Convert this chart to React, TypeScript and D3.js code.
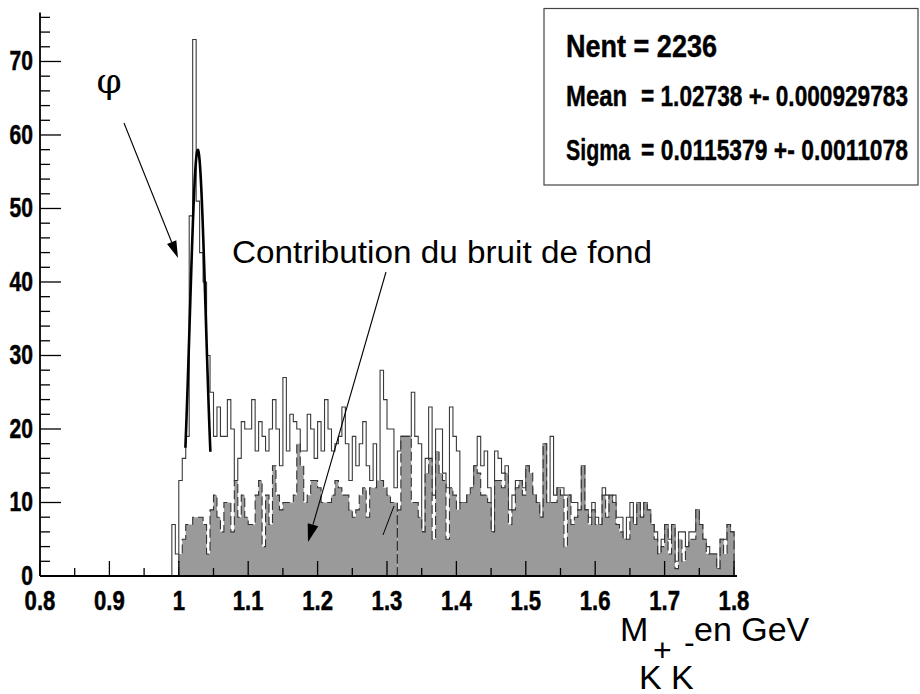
import React from 'react';
import * as d3 from 'd3';

// ---------- DATA ----------
const BIN_WIDTH = 0.005;

// total K+K- invariant-mass histogram (white, outlined), first bin starts at 0.99 GeV
const totalStart = 0.99;
const totalCounts = [
  7, 3, 13, 16, 19, 49, 73, 51, 44, 40,
  30, 25, 19, 23, 19, 19, 24, 20, 13, 16,
  21, 20, 20, 24, 17, 21, 19, 17, 20, 24,
  20, 15, 27, 17, 22, 21, 20, 17, 17, 22,
  20, 16, 21, 17, 24, 20, 17, 18, 19, 23,
  18, 13, 19, 15, 18, 21, 15, 13, 18, 12,
  28, 24, 20, 20, 12, 17, 19, 19, 19, 25,
  19, 18, 6, 16, 23, 11, 20, 20, 14, 12,
  23, 19, 17, 10, 10, 11, 11, 15, 19, 15,
  17, 12, 6, 17, 16, 14, 15, 9, 11, 13,
  13, 12, 15, 12, 11, 10, 8, 18, 10, 19,
  11, 12, 12, 11, 11, 10, 10, 8, 15, 9,
  8, 10, 8, 7, 12, 11, 8, 11, 8, 8,
  5, 8, 10, 7, 10, 8, 10, 9, 7, 6,
  3, 5, 7, 5, 7, 2, 6, 6, 4, 6,
  6, 9, 7, 5, 4, 3, 3, 1, 5, 5,
  7, 6,
];

// background contribution (grey, filled, dashed outline) – lower part
const bgLeftStart = 1.0;
const bgLeftCounts = [
  3, 5, 7, 7, 8, 8, 8, 7, 3, 9,
  11, 8, 6, 10, 10, 6, 13, 8, 11, 8,
  7, 7, 11, 13, 4, 11, 7, 15, 11, 9,
  10, 10, 10, 11, 18, 15, 10, 11, 13, 13,
  12, 10, 10, 10, 11, 13, 12, 11, 11, 9,
  8, 9, 11, 12, 8, 12, 12, 13, 13, 12,
  11, 10, 10,
];

// background contribution – upper part
const bgRightStart = 1.315;
const bgRightCounts = [
  9, 19, 19, 19, 10, 10, 8, 6, 14, 16,
  5, 17, 14, 13, 5, 12, 11, 9, 10, 10,
  11, 12, 15, 14, 11, 11, 10, 6, 13, 13,
  12, 14, 7, 9, 12, 13, 11, 15, 14, 11,
  10, 8, 18, 10, 10, 10, 12, 11, 4, 11,
  7, 8, 9, 15, 9, 7, 9, 7, 7, 11,
  8, 11, 10, 7, 6, 5, 5, 8, 7, 10,
  8, 10, 9, 7, 5, 3, 4, 7, 3, 7,
  1, 5, 2, 4, 5, 5, 9, 7, 5, 3,
  3, 3, 1, 5, 3, 7, 6,
];

// Gaussian fit parameters (phi peak)
const fitMean = 1.02738;
const fitSigma = 0.0115379;
const fitAmplitude = 58;
const fitRange = [1.0095, 1.0455];

// axes
const xDomain = [0.8, 1.8];
const yDomain = [0, 76.65];
const xMajorTicks = [0.8, 0.9, 1.0, 1.1, 1.2, 1.3, 1.4, 1.5, 1.6, 1.7, 1.8];
const xTickLabels = ['0.8', '0.9', '1', '1.1', '1.2', '1.3', '1.4', '1.5', '1.6', '1.7', '1.8'];
const xMinorTicks = [0.85, 0.95, 1.05, 1.15, 1.25, 1.35, 1.45, 1.55, 1.65, 1.75];
const yMajorTicks = [0, 10, 20, 30, 40, 50, 60, 70];
const yTickLabels = ['0', '10', '20', '30', '40', '50', '60', '70'];
const yMinorTicks = d3.range(2, 77, 2).filter((v) => v % 10 !== 0);

// stats box texts
const statsTitle = 'Nent = 2236';
const statsNames = ['Mean', 'Sigma'];
const statsValues = ['= 1.02738 +- 0.000929783', '= 0.0115379 +- 0.0011078'];

const annotationPhi = 'φ';
const annotationBg = 'Contribution du bruit de fond';

// ---------- HELPERS ----------
function stepPoints(start: number, counts: number[]): [number, number][] {
  const pts: [number, number][] = [[start, 0]];
  counts.forEach((c, i) => {
    const lo = start + i * BIN_WIDTH;
    pts.push([lo, c], [lo + BIN_WIDTH, c]);
  });
  pts.push([start + counts.length * BIN_WIDTH, 0]);
  return pts;
}

const SANS = "'Liberation Sans', Arial, Helvetica, sans-serif";

function CText(props: {
  x: number; y: number; sx?: number; size: number; anchor?: string; bold?: boolean; children: any; family?: string; heavy?: boolean;
}) {
  const { x, y, sx = 1, size, anchor = 'start', bold = false, children, family = SANS, heavy = false } = props;
  return (
    <text
      transform={`translate(${x},${y}) scale(${sx},1)`}
      fontSize={size}
      fontFamily={family}
      fontWeight={bold ? 'bold' : 'normal'}
      textAnchor={anchor}
      fill="#000"
      stroke={heavy ? '#000' : 'none'}
      strokeWidth={heavy ? 0.5 : 0}
    >
      {children}
    </text>
  );
}

function Arrow(props: { x1: number; y1: number; x2: number; y2: number; len?: number; half?: number }) {
  const { x1, y1, x2, y2, len = 16, half = 5 } = props;
  const dx = x2 - x1, dy = y2 - y1;
  const L = Math.hypot(dx, dy);
  const ux = dx / L, uy = dy / L;
  const bx = x2 - ux * len, by = y2 - uy * len;
  const px = -uy, py = ux;
  const head = `M${x2},${y2}L${bx + px * half},${by + py * half}L${bx - px * half},${by - py * half}Z`;
  return (
    <g>
      <line x1={x1} y1={y1} x2={bx} y2={by} stroke="#000" strokeWidth={1.1} />
      <path d={head} fill="#000" />
    </g>
  );
}

export default function App() {
  const x = d3.scaleLinear().domain(xDomain).range([40, 734]);
  const y = d3.scaleLinear().domain(yDomain).range([576, 12.6]);

  const line = d3.line<[number, number]>().x((d) => x(d[0])).y((d) => y(d[1]));

  const totalPath = line(stepPoints(totalStart, totalCounts)) || '';
  const bgLeftPath = line(stepPoints(bgLeftStart, bgLeftCounts)) || '';
  const bgRightPath = line(stepPoints(bgRightStart, bgRightCounts)) || '';

  const fitX = d3.range(fitRange[0], fitRange[1] + 1e-9, (fitRange[1] - fitRange[0]) / 60);
  const fitPts: [number, number][] = fitX.map((v) => [
    v,
    fitAmplitude * Math.exp(-0.5 * ((v - fitMean) / fitSigma) ** 2),
  ]);
  const fitPath = d3.line<[number, number]>().x((d) => x(d[0])).y((d) => y(d[1])).curve(d3.curveBasis)(fitPts) || '';

  const y0 = y(0);
  const statFont = 30;

  return (
    <svg
      width={920}
      height={694}
      style={{ position: 'absolute', left: 0, top: 0, background: '#fff' }}
    >
      <rect x={0} y={0} width={920} height={694} fill="#fff" />

      {/* total histogram */}
      <path d={totalPath} fill="none" stroke="#3a3a3a" strokeWidth={1.1} />

      {/* background histogram */}
      <path d={bgLeftPath} fill="#9a9a9a" stroke="none" />
      <path d={bgRightPath} fill="#9a9a9a" stroke="none" />
      <path d={bgLeftPath} fill="none" stroke="#333" strokeWidth={1.1} strokeDasharray="9,4" />
      <path d={bgRightPath} fill="none" stroke="#333" strokeWidth={1.1} strokeDasharray="9,4" />

      {/* gaussian fit */}
      <path d={fitPath} fill="none" stroke="#000" strokeWidth={2.6} />

      {/* axes */}
      <line x1={40} y1={y0} x2={737} y2={y0} stroke="#000" strokeWidth={1.8} />
      <line x1={40} y1={y0} x2={40} y2={y(yDomain[1])} stroke="#000" strokeWidth={1.8} />
      {xMajorTicks.map((v) => (
        <line key={'xM' + v} x1={x(v)} x2={x(v)} y1={y0} y2={y0 - 15} stroke="#000" strokeWidth={1.3} />
      ))}
      {xMinorTicks.map((v) => (
        <line key={'xm' + v} x1={x(v)} x2={x(v)} y1={y0} y2={y0 - 8} stroke="#000" strokeWidth={1.3} />
      ))}
      {yMajorTicks.map((v) => (
        <line key={'yM' + v} x1={40} x2={61} y1={y(v)} y2={y(v)} stroke="#000" strokeWidth={1.3} />
      ))}
      {yMinorTicks.map((v) => (
        <line key={'ym' + v} x1={40} x2={50} y1={y(v)} y2={y(v)} stroke="#000" strokeWidth={1.3} />
      ))}
      {yMajorTicks.map((v, i) => (
        <CText key={'yl' + v} x={33} y={y(v) + 9} size={27} sx={0.78} anchor="end" bold heavy>
          {yTickLabels[i]}
        </CText>
      ))}
      {xMajorTicks.map((v, i) => (
        <CText key={'xl' + v} x={x(v)} y={610} size={27} sx={0.82} anchor="middle" bold heavy>
          {xTickLabels[i]}
        </CText>
      ))}

      {/* x-axis title */}
      <CText x={620} y={641} size={34}>M</CText>
      <CText x={694} y={641} size={34}>en GeV</CText>
      <CText x={653} y={661} size={32}>+</CText>
      <CText x={684} y={653} size={32}>-</CText>
      <CText x={639} y={689} size={34}>K</CText>
      <CText x={671} y={689} size={34}>K</CText>

      {/* annotations */}
      <CText x={109} y={93} size={36} anchor="middle" family="'DejaVu Serif', 'Liberation Serif', serif">
        {annotationPhi}
      </CText>
      <Arrow x1={124} y1={123} x2={178} y2={258} len={17} half={5} />
      <text x={232} y={263} fontSize={31} fontFamily={SANS} textLength={420} lengthAdjust="spacingAndGlyphs">
        {annotationBg}
      </text>
      <Arrow x1={386} y1={272} x2={308} y2={542} len={18} half={5.5} />
      <line x1={383} y1={535} x2={394} y2={506} stroke="#000" strokeWidth={1} />

      {/* stats box */}
      <rect x={544} y={8.5} width={374} height={176.5} fill="#fff" stroke="#444" strokeWidth={1.2} />
      <text x={566} y={57} fontSize={31} fontWeight="bold" fontFamily={SANS} stroke="#000" strokeWidth={0.4}
        textLength={151} lengthAdjust="spacingAndGlyphs">
        {statsTitle}
      </text>
      {statsNames.map((n, i) => (
        <g key={n}>
          <text x={566} y={106 + i * 54} fontSize={statFont} fontWeight="bold" fontFamily={SANS} stroke="#000" strokeWidth={0.4}
            textLength={i === 0 ? 61 : 64} lengthAdjust="spacingAndGlyphs">
            {n}
          </text>
          <text x={641} y={106 + i * 54} fontSize={statFont} fontWeight="bold" fontFamily={SANS} stroke="#000" strokeWidth={0.4}
            textLength={267} lengthAdjust="spacingAndGlyphs">
            {statsValues[i]}
          </text>
        </g>
      ))}
    </svg>
  );
}
